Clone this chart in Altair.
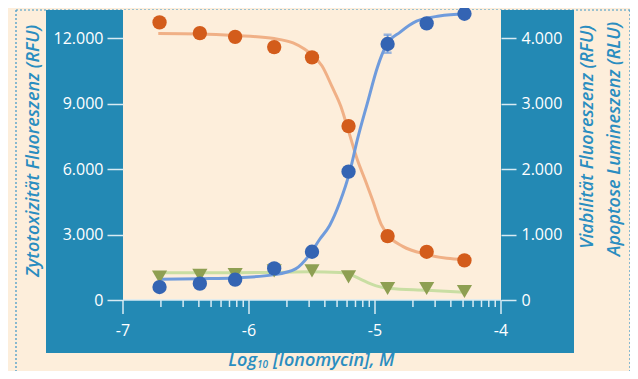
import altair as alt
import pandas as pd
import numpy as np

log_conc = [-6.71, -6.39, -6.11, -5.80, -5.50, -5.21, -4.90, -4.59, -4.29]
cyto = [12730, 12240, 12070, 11600, 11130, 7975, 2930, 2210, 1815]   # left axis (RFU)
viab = [198, 250, 311, 483, 738, 1962, 3913, 4229, 4375]             # right axis (RFU)
apop = [351, 377, 389, 445, 445, 354, 175, 175, 130]                 # right axis (RLU)

# error bar on one viability point
err_x = [-4.90]
err_lo = [3780]
err_hi = [4055]

# fitted curves
cyto_fit_x = [-6.72, -6.39, -6.11, -5.80, -5.65, -5.56, -5.50, -5.42, -5.34, -5.27,
              -5.22, -5.14, -5.07, -5.02, -4.95, -4.88, -4.78, -4.59, -4.43, -4.29]
cyto_fit_y = [12220, 12200, 12130, 11990, 11790, 11510, 11240, 10730, 9770, 8860,
              7940, 6430, 5380, 4600, 3460, 2870, 2460, 2090, 1910, 1860]
viab_fit_x = [-6.72, -6.39, -6.11, -5.81, -5.63, -5.52, -5.44, -5.36, -5.28, -5.20,
              -5.14, -5.06, -4.98, -4.91, -4.80, -4.67, -4.49, -4.28]
viab_fit_y = [316, 326, 338, 384, 476, 690, 925, 1139, 1489, 1962,
              2450, 3014, 3563, 3898, 4096, 4264, 4340, 4370]
apop_fit_x = [-6.72, -6.39, -6.11, -5.81, -5.52, -5.28, -5.20, -5.12, -4.99, -4.88, -4.59, -4.29]
apop_fit_y = [415, 418, 418, 422, 430, 422, 392, 323, 216, 174, 148, 117]

x_major = [-7, -6, -5, -4]
x_labels = ["-7", "-6", "-5", "-4"]
left_ticks = [0, 3000, 6000, 9000, 12000]
right_ticks = [0, 1000, 2000, 3000, 4000]
left_domain = [0, 13300]
right_domain = [0, 4433]

minor = [float(d + np.log10(k)) for d in [-7, -6, -5] for k in range(2, 10)]

# ---- styles ----
BG = "#fdeedb"
PANEL = "#2389b4"
TITLE = "#2a8dc0"
TICK = "#d8ebf3"
FONT = "Open Sans"

pts = pd.DataFrame({"x": log_conc, "cyto": cyto, "viab": viab, "apop": apop})
cfit = pd.DataFrame({"x": cyto_fit_x, "y": cyto_fit_y})
vfit = pd.DataFrame({"x": viab_fit_x, "y": viab_fit_y})
afit = pd.DataFrame({"x": apop_fit_x, "y": apop_fit_y})
err = pd.DataFrame({"x": err_x, "lo": err_lo, "hi": err_hi})
major_df = pd.DataFrame({"x": [float(v) for v in x_major], "lab": x_labels})
minor_df = pd.DataFrame({"x": minor})
one = pd.DataFrame({"a": [0]})

xscale = alt.Scale(domain=[-7, -4], nice=False, zero=False)
lscale = alt.Scale(domain=left_domain, nice=False, zero=False)
rscale = alt.Scale(domain=right_domain, nice=False, zero=False)
lab = "replace(format(datum.value, ',d'), ',', '.')"
laxis = alt.Axis(orient="left", values=left_ticks, labelExpr=lab, tickSize=16, tickWidth=1.5,
                 tickColor=TICK, domain=False, labelColor="white", labelFontSize=16,
                 labelFont=FONT, labelPadding=4, title=None, zindex=1, grid=False)
raxis = alt.Axis(orient="right", values=right_ticks, labelExpr=lab, tickSize=15, tickWidth=1.5,
                 tickColor=TICK, domain=False, labelColor="white", labelFontSize=16,
                 labelFont=FONT, labelPadding=5, title=None, zindex=1, grid=False)

Xn = alt.X("x:Q", scale=xscale, axis=None)

# decoration
dash_top = alt.Chart(one).mark_rule(color="#3d95c6", strokeDash=[2, 2], strokeWidth=1.2, clip=False).encode(
    x=alt.value(-107), x2=alt.value(507), y=alt.value(0))
dash_l = alt.Chart(one).mark_rule(color="#3d95c6", strokeDash=[2, 2], strokeWidth=1.2, clip=False).encode(
    x=alt.value(-107), y=alt.value(0), y2=alt.value(380))
dash_r = alt.Chart(one).mark_rule(color="#3d95c6", strokeDash=[2, 2], strokeWidth=1.2, clip=False).encode(
    x=alt.value(507), y=alt.value(0), y2=alt.value(380))
panel = alt.Chart(one).mark_rect(color=PANEL, clip=False).encode(
    x=alt.value(-77), x2=alt.value(451), y=alt.value(0), y2=alt.value(343))
plotbg = alt.Chart(one).mark_rect(color=BG, clip=False).encode(
    x=alt.value(0), x2=alt.value(378), y=alt.value(0), y2=alt.value(290))

# bottom axis drawn from the tick lists
x_domain_line = alt.Chart(one).mark_rule(color=TICK, strokeWidth=1.5, clip=False).encode(
    x=alt.value(0), x2=alt.value(378), y=alt.value(290))
major_ticks = alt.Chart(major_df).mark_rule(color=TICK, strokeWidth=1.5, clip=False).encode(
    x=Xn, y=alt.value(290), y2=alt.value(304))
minor_ticks = alt.Chart(minor_df).mark_rule(color=TICK, strokeWidth=1.5, clip=False).encode(
    x=Xn, y=alt.value(290), y2=alt.value(297))
x_tick_labels = alt.Chart(major_df).mark_text(color="white", font=FONT, fontSize=16, align="center",
                                              baseline="middle", clip=False).encode(
    x=Xn, y=alt.value(321), text="lab:N")

# curves
c_line = alt.Chart(cfit).mark_line(color="#f0b086", strokeWidth=3, interpolate="monotone").encode(
    x=Xn, y=alt.Y("y:Q", scale=lscale, axis=laxis))
a_line = alt.Chart(afit).mark_line(color="#c9dea3", strokeWidth=3, interpolate="monotone").encode(
    x=Xn, y=alt.Y("y:Q", scale=rscale, axis=None))
v_line = alt.Chart(vfit).mark_line(color="#6f9bdc", strokeWidth=3, interpolate="monotone").encode(
    x=Xn, y=alt.Y("y:Q", scale=rscale, axis=raxis))

err_rule = alt.Chart(err).mark_rule(color="#6f9bdc", strokeWidth=2).encode(
    x=Xn, y=alt.Y("lo:Q", scale=rscale, axis=None), y2="hi:Q")
err_cap1 = alt.Chart(err).mark_tick(color="#6f9bdc", orient="horizontal", size=8, thickness=2.5).encode(
    x=Xn, y=alt.Y("lo:Q", scale=rscale, axis=None))
err_cap2 = alt.Chart(err).mark_tick(color="#6f9bdc", orient="horizontal", size=8, thickness=2.5).encode(
    x=Xn, y=alt.Y("hi:Q", scale=rscale, axis=None))

a_pts = alt.Chart(pts).mark_point(shape="triangle-down", filled=True, size=230, color="#8e9f52", opacity=1).encode(
    x=Xn, y=alt.Y("apop:Q", scale=rscale, axis=None))
v_pts = alt.Chart(pts).mark_circle(size=205, color="#3464b3", opacity=1).encode(
    x=Xn, y=alt.Y("viab:Q", scale=rscale, axis=None))
c_pts = alt.Chart(pts).mark_circle(size=205, color="#d35c1b", opacity=1).encode(
    x=Xn, y=alt.Y("cyto:Q", scale=lscale, axis=None))

# titles
tstyle = dict(font=FONT, fontSize=18, fontStyle="italic", fontWeight=600, color=TITLE)
t_left = alt.Chart(one).mark_text(text="Zytotoxizität Fluoreszenz (RFU)", angle=270, align="center",
                                  baseline="middle", **tstyle).encode(x=alt.value(-89), y=alt.value(141))
t_r1 = alt.Chart(one).mark_text(text="Viabilität Fluoreszenz (RFU)", angle=270, align="center",
                                baseline="middle", **tstyle).encode(x=alt.value(465), y=alt.value(127))
t_r2 = alt.Chart(one).mark_text(text="Apoptose Lumineszenz (RLU)", angle=270, align="center",
                                baseline="middle", **tstyle).encode(x=alt.value(492), y=alt.value(129))
t_b1 = alt.Chart(one).mark_text(text="Log", align="right", baseline="alphabetic", **tstyle).encode(
    x=alt.value(134), y=alt.value(356))
t_b2 = alt.Chart(one).mark_text(text="10", align="left", baseline="alphabetic", font=FONT, fontSize=10,
                                fontStyle="italic", fontWeight=600, color=TITLE).encode(
    x=alt.value(134), y=alt.value(358))
t_b3 = alt.Chart(one).mark_text(text="[Ionomycin], M", align="left", baseline="alphabetic", **tstyle).encode(
    x=alt.value(150), y=alt.value(356))

chart = alt.layer(
    dash_top, dash_l, dash_r, panel, plotbg,
    x_domain_line, major_ticks, minor_ticks, x_tick_labels,
    c_line, a_line, v_line, err_rule, err_cap1, err_cap2,
    a_pts, v_pts, c_pts,
    t_left, t_r1, t_r2, t_b1, t_b2, t_b3,
).resolve_scale(y="independent").properties(
    width=378, height=290,
    padding={"left": 115, "top": 2, "right": 129, "bottom": 71},
    autosize=alt.AutoSizeParams(type="none"),
    background=BG,
).configure_view(strokeWidth=0)

chart.save("out.html", embed_options={"renderer": "svg", "actions": False})
